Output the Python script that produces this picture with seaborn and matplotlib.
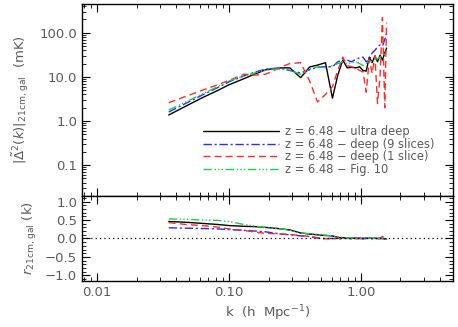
import matplotlib
matplotlib.use("Agg")
import matplotlib.pyplot as plt
import matplotlib.ticker as mticker
import numpy as np
import pandas as pd
import seaborn as sns

# k bins (h/Mpc)
k = [0.035, 0.047, 0.062, 0.082, 0.10, 0.13, 0.16, 0.19, 0.22, 0.25, 0.29,
     0.35, 0.41, 0.47, 0.54, 0.61, 0.67, 0.73, 0.79, 0.85, 0.92, 0.98,
     1.04, 1.10, 1.16, 1.22, 1.28, 1.34, 1.40, 1.46, 1.52, 1.57]

# |Delta^2(k)| cross power (mK)
ps_ultra = [1.37, 2.16, 3.3, 4.9, 6.6, 9.1, 11.8, 14.5, 15.5, 16.0, 16.0,
            9.6, 16.8, 18.5, 21.0, 3.3, 11.0, 24.0, 16.0, 16.5, 16.0, 17.0,
            14.0, 13.5, 28.0, 21.0, 30.0, 22.0, 31.0, 24.0, 35.0, 45.0]
ps_deep9 = [1.6, 2.5, 3.8, 5.7, 7.7, 10.5, 13.0, 15.0, 15.5, 15.5, 14.0,
            12.3, 14.5, 16.5, 17.0, 17.0, 22.0, 24.0, 24.0, 22.0, 25.0, 27.0,
            28.0, 22.0, 25.0, 35.0, 40.0, 48.0, 53.0, 50.0, 70.0, 95.0]
ps_deep1 = [2.6, 3.6, 4.9, 6.6, 8.3, 11.5, 11.0, 11.5, 14.0, 17.0, 20.0,
            21.0, 8.0, 2.7, 4.0, 6.0, 14.0, 28.0, 18.0, 17.0, 16.0, 14.0,
            13.0, 4.5, 25.0, 12.0, 30.0, 2.5, 10.0, 220.0, 2.0, 170.0]
ps_fig10 = [1.78, 2.7, 4.0, 6.0, 8.1, 10.5, 12.5, 14.0, 15.0, 15.0, 14.0,
            11.5, 15.0, 17.0, 16.0, 18.0, 20.0, 22.0, 20.0, 21.0, 22.0, 20.0,
            18.0, 20.0, 24.0, 22.0, 25.0, 26.0, 28.0, 30.0, 33.0, 37.0]

# cross-correlation coefficient r(k)
r_ultra = [0.46, 0.44, 0.41, 0.38, 0.35, 0.33, 0.32, 0.30, 0.28, 0.26, 0.23,
           0.15, 0.12, 0.10, 0.08, 0.07, 0.03, 0.02, 0.02, 0.01, 0.01, 0.01,
           0.0, 0.01, 0.01, 0.0, 0.01, 0.0, 0.0, 0.0, -0.01, -0.02]
r_deep9 = [0.29, 0.28, 0.27, 0.26, 0.24, 0.22, 0.20, 0.18, 0.15, 0.12, 0.10,
           0.07, 0.05, 0.01, 0.0, 0.0, -0.01, 0.0, 0.01, -0.01, 0.0, 0.0,
           -0.01, 0.0, 0.01, 0.0, -0.01, 0.0, 0.01, 0.0, 0.0, -0.01]
r_deep1 = [0.43, 0.38, 0.35, 0.31, 0.26, 0.22, 0.17, 0.14, 0.13, 0.12, 0.11,
           0.08, 0.06, 0.02, -0.01, 0.0, 0.01, -0.01, 0.0, 0.01, -0.02, 0.0,
           0.01, -0.01, 0.02, 0.0, 0.01, -0.01, 0.0, 0.06, 0.0, 0.0]
r_fig10 = [0.53, 0.52, 0.50, 0.49, 0.46, 0.38, 0.33, 0.30, 0.27, 0.26, 0.23,
           0.15, 0.13, 0.11, 0.09, 0.07, 0.04, 0.03, 0.02, 0.02, 0.01, 0.01,
           0.01, 0.0, 0.01, 0.0, 0.0, 0.01, 0.0, 0.0, -0.01, -0.03]

labels = ["z = 6.48 \u2212 ultra deep",
          "z = 6.48 \u2212 deep (9 slices)",
          "z = 6.48 \u2212 deep (1 slice)",
          "z = 6.48 \u2212 Fig. 10"]
colors = ["black", "#2828ff", "#ff2a2a", "#22cc44"]
styles = ["-", (0, (6, 2, 1.5, 2)), (0, (5, 3)), (0, (6, 2, 1, 1.5, 1, 1.5, 1, 2))]

sns.set_style("ticks")
plt.rcParams["font.family"] = ["DejaVu Sans"]
plt.rcParams["mathtext.fontset"] = "dejavusans"
grey = "#5a5a5a"
fs = 9.5

fig = plt.figure(figsize=(4.58, 3.27), dpi=100)
ax_top = fig.add_axes([0.179, 0.4006, 0.81, 0.5874])
ax_bot = fig.add_axes([0.179, 0.1407, 0.81, 0.2599], sharex=ax_top)

ps_all = [ps_ultra, ps_deep9, ps_deep1, ps_fig10]
r_all = [r_ultra, r_deep9, r_deep1, r_fig10]
for ps, r, lab, c, ls in zip(ps_all, r_all, labels, colors, styles):
    df = pd.DataFrame({"k": k, "ps": ps, "r": r})
    sns.lineplot(data=df, x="k", y="ps", ax=ax_top, color=c, linestyle=ls,
                 linewidth=1.0, label=lab, legend=False)
    sns.lineplot(data=df, x="k", y="r", ax=ax_bot, color=c, linestyle=ls,
                 linewidth=1.0, legend=False)

ax_bot.axhline(0.0, color="black", linestyle=(0, (1, 2.5)), linewidth=0.9)

ax_top.set_xscale("log")
ax_top.set_yscale("log")
ax_top.set_xlim(0.0077, 5.0)
ax_top.set_ylim(0.02, 450)
ax_bot.set_ylim(-1.15, 1.15)

ax_top.set_yticks([0.1, 1, 10, 100])
ax_top.yaxis.set_major_formatter(mticker.FuncFormatter(lambda v, p: f"{v:.1f}"))
ax_top.yaxis.set_minor_locator(mticker.LogLocator(subs=np.arange(2, 10), numticks=20))
ax_top.yaxis.set_minor_formatter(mticker.NullFormatter())

ax_bot.set_xticks([0.01, 0.1, 1.0])
ax_bot.xaxis.set_major_formatter(mticker.FuncFormatter(lambda v, p: f"{v:.2f}"))
ax_bot.xaxis.set_minor_locator(mticker.LogLocator(subs=np.arange(2, 10), numticks=20))
ax_bot.xaxis.set_minor_formatter(mticker.NullFormatter())
ax_bot.set_yticks([-1.0, -0.5, 0.0, 0.5, 1.0])
ax_bot.yaxis.set_major_formatter(mticker.FuncFormatter(lambda v, p: f"{v:.1f}".replace("-", "\u2212")))
ax_bot.yaxis.set_minor_locator(mticker.MultipleLocator(0.1))
plt.setp(ax_top.get_xticklabels(), visible=False)

for ax in (ax_top, ax_bot):
    ax.tick_params(which="both", direction="in", top=True, right=True,
                   labelcolor=grey, labelsize=fs, color="black")
    ax.tick_params(which="major", length=6, width=0.8)
    ax.tick_params(which="minor", length=3, width=0.6)
    for sp in ax.spines.values():
        sp.set_linewidth(1.0)
        sp.set_color("black")
    ax.set_xlabel("")
    ax.set_ylabel("")

ax_top.set_ylabel(r"$|\tilde{\Delta}^2(k)|_{\mathrm{21cm,gal}}$  (mK)",
                  color=grey, fontsize=fs, labelpad=6)
ax_bot.set_ylabel(r"$r_{\mathrm{21cm,gal}}$ (k)", color=grey, fontsize=fs, labelpad=4)
ax_bot.set_xlabel(r"k  (h  Mpc$^{-1}$)", color=grey, fontsize=fs, labelpad=3)

handles, labs = ax_top.get_legend_handles_labels()
leg = ax_top.legend(handles, labs, loc="upper left", bbox_to_anchor=(0.443, 0.618),
                    bbox_transform=fig.transFigure, frameon=False, fontsize=8.3,
                    handlelength=6.6, handletextpad=0.5, labelspacing=-0.02,
                    borderpad=0, borderaxespad=0)
for t in leg.get_texts():
    t.set_color(grey)

fig.savefig("out.png", dpi=100)
